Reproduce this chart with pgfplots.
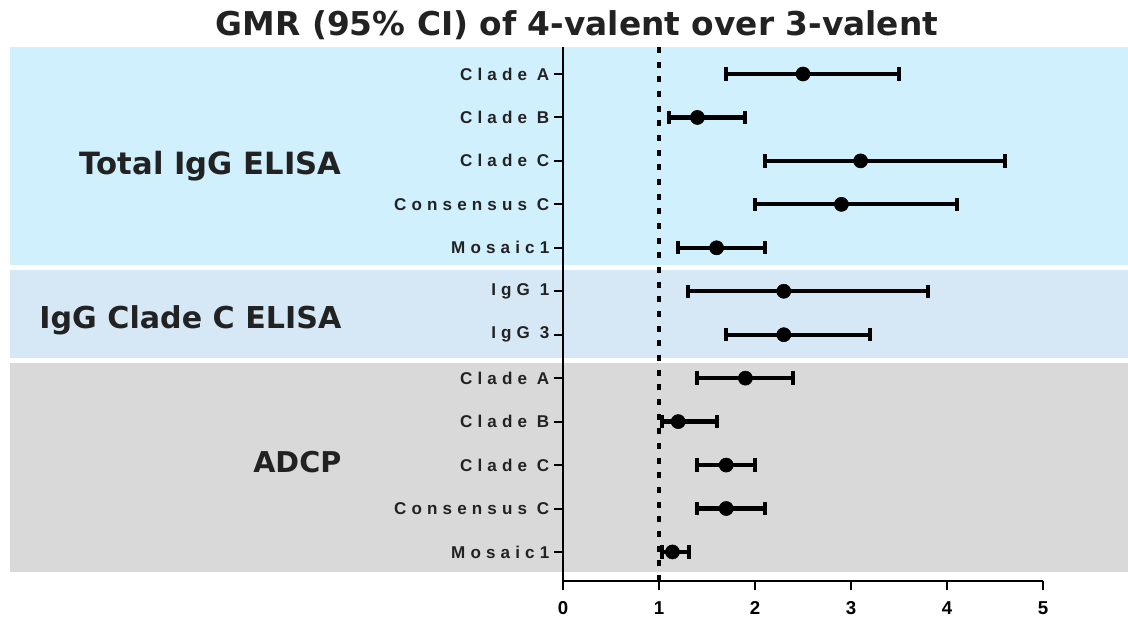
\documentclass[border=0pt]{standalone}
\usepackage{fontspec}
\usepackage{pgfplots}
\usepackage{pgfplotstable}
\pgfplotsset{compat=1.18}
\setmainfont{DejaVu Sans}
\newfontfamily\tickfont[LetterSpace=30]{Liberation Sans}
\newfontfamily\numfont{Liberation Sans}
\definecolor{bandA}{HTML}{D0F0FD}
\definecolor{bandB}{HTML}{D6E8F6}
\definecolor{bandC}{HTML}{D9D9D9}
\definecolor{txt}{HTML}{222222}
\pgfplotstableread{
y lo m hi
12 1.7 2.5 3.5
11 1.1 1.4 1.9
10 2.1 3.1 4.6
9 2.0 2.9 4.1
8 1.2 1.6 2.1
7 1.3 2.3 3.8
6 1.7 2.3 3.2
5 1.4 1.9 2.4
4 1.03 1.2 1.6
3 1.4 1.7 2.0
2 1.4 1.7 2.1
1 1.03 1.14 1.31
}\gmr
\begin{document}
\begin{tikzpicture}
\begin{axis}[
  set layers,
  scale only axis, width=360pt, height=400.5pt,
  xmin=0, xmax=5, ymin=0.331, ymax=12.621,
  clip=false,
  axis x line=bottom, axis y line=left,
  axis line style={-, line width=1.5pt, black},
  xtick={0,1,2,3,4,5},
  ytick={1,2,3,4,5,6,7,8,9,10,11,12},
  yticklabels={Mosaic1,Consensus C,Clade C,Clade B,Clade A,IgG 3,IgG 1,Mosaic1,Consensus C,Clade C,Clade B,Clade A},
  tick align=outside, major tick length=6.75pt,
  tick style={line width=1.5pt, black},
  yticklabel style={font=\tickfont\bfseries\fontsize{12.8}{15}\selectfont, text=txt},
  xticklabel style={font=\numfont\bfseries\fontsize{14}{16}\selectfont, text=black, yshift=-5pt},
  /pgf/number format/assume math mode=true,
]
\begin{pgfonlayer}{axis background}
\fill[bandA] (axis cs:-5.76,7.604) rectangle (axis cs:5.885,12.621);
\fill[bandB] (axis cs:-5.76,5.475) rectangle (axis cs:5.885,7.49);
\fill[bandC] (axis cs:-5.76,0.54) rectangle (axis cs:5.885,5.36);
\end{pgfonlayer}
\addplot[black, line width=2.3pt, dash pattern=on 4.5pt off 6.5pt] coordinates {(1,0.331) (1,12.621)};
\addplot[black, only marks, mark=*, mark size=5.3pt,
  error bars/.cd, x dir=both, x explicit,
  error bar style={line width=3.2pt, black},
  error mark options={rotate=90, mark size=5pt, line width=3pt, black}]
  table[x=m, y=y, x error plus expr=\thisrow{hi}-\thisrow{m}, x error minus expr=\thisrow{m}-\thisrow{lo}] {\gmr};
\node[font=\bfseries\fontsize{24.6}{28}\selectfont, text=txt] at (axis cs:0.146,13.12) {GMR (95\% CI) of 4-valent over 3-valent};
\node[anchor=east, font=\bfseries\fontsize{23}{26}\selectfont, text=txt] at (axis cs:-2.26,9.883) {Total IgG ELISA};
\node[anchor=east, font=\bfseries\fontsize{22.6}{26}\selectfont, text=txt] at (axis cs:-2.26,6.338) {IgG Clade C ELISA};
\node[anchor=east, font=\bfseries\fontsize{21.5}{26}\selectfont, text=txt] at (axis cs:-2.26,3.07) {ADCP};
\coordinate (bl) at (axis cs:-5.8646,-0.543);
\coordinate (tr) at (axis cs:5.8854,13.703);
\end{axis}
\pgfresetboundingbox
\useasboundingbox (bl) rectangle (tr);
\end{tikzpicture}
\end{document}
